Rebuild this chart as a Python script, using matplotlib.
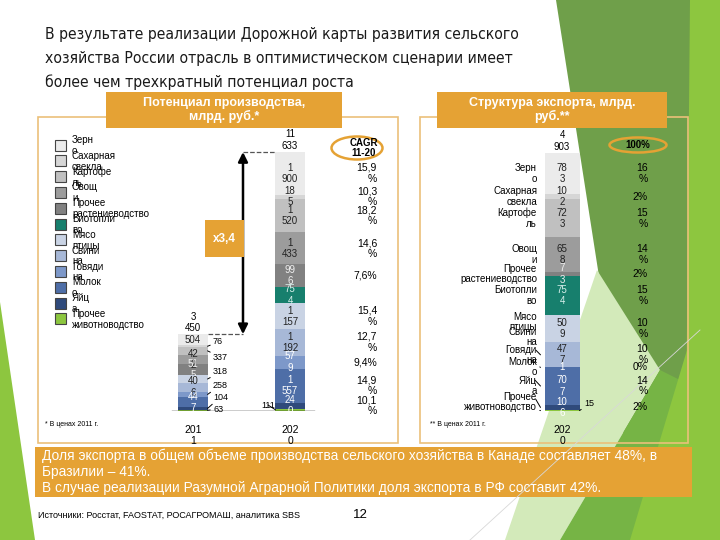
import matplotlib.pyplot as plt
from matplotlib.patches import Rectangle, Ellipse, Polygon
from matplotlib import font_manager, transforms

# ---- data ----
categories = ['Зерно', 'Сахарная свекла', 'Картофель', 'Овощи', 'Прочее растениеводство',
              'Биотопливо', 'Мясо птицы', 'Свинина', 'Говядина', 'Молоко', 'Яйца',
              'Прочее животноводство']
legend_labels = ['Зерн\nо', 'Сахарная\nсвекла', 'Картофе\nль', 'Овощ\nи', 'Прочее\nрастениеводство',
                 'Биотопли\nво', 'Мясо\nптицы', 'Свини\nна', 'Говяди\nна', 'Молок\nо', 'Яйц\nа',
                 'Прочее\nживотноводство']
years = ['2011', '2020']
prod_2011 = [504, 76, 337, 422, 515, 0, 318, 406, 258, 447, 104, 63]
prod_2020 = [1900, 185, 1520, 1433, 996, 754, 1157, 1192, 579, 1557, 240, 111]
total_2011 = 3450
total_2020 = 11633
cagr = [15.9, 10.3, 18.2, 14.6, 7.6, None, 15.4, 12.7, 9.4, 14.9, 10.1, None]
export_2020 = [783, 102, 723, 658, 73, 754, 509, 477, 1, 707, 106, 15]
total_export = 4903
export_share = [16, 2, 15, 14, 2, 15, 10, 10, 0, 14, 2, None]

title_lines = ['В результате реализации Дорожной карты развития сельского',
               'хозяйства России отрасль в оптимистическом сценарии имеет',
               'более чем трехкратный потенциал роста']

colors = ['#EBEBEB', '#D6D6D6', '#C0C0C0', '#9C9C9C', '#818181', '#177F6D',
          '#C9D3E4', '#A7B8D7', '#7D98C9', '#4E6EA7', '#2F4A7B', '#8CC63F']
txt_colors = ['#222222', '#222222', '#222222', '#222222', '#F0F0F0', '#D8F0EC',
              '#222222', '#222222', 'white', 'white', 'white', '#222222']

ORANGE = '#E5A234'
W, H = 720, 540

# narrow face for the title, only from families known to carry Cyrillic
title_prop = None
for pattern in ('LiberationSansNarrow-Regular', 'DejaVuSansCondensed.ttf'):
    for f in font_manager.fontManager.ttflist:
        if pattern in f.fname:
            title_prop = font_manager.FontProperties(fname=f.fname)
            break
    if title_prop is not None:
        break
if title_prop is None:
    title_prop = font_manager.FontProperties(family=['Roboto', 'DejaVu Sans'])

plt.rcParams['font.family'] = ['Liberation Sans', 'DejaVu Sans']

fig = plt.figure(figsize=(7.2, 5.4), dpi=100)


def px_axes(x0, y0, x1, y1, z):
    return fig.add_axes([x0 / W, 1 - y1 / H, (x1 - x0) / W, (y1 - y0) / H], zorder=z)


# background / decoration layer in pixel coords
bg = px_axes(0, 0, W, H, 0)
bg.set_xlim(0, W)
bg.set_ylim(H, 0)
bg.axis('off')

bg.add_patch(Polygon([(556, 0), (700, 0), (705, 540), (640, 540)], closed=True, fc='#6F9F4A', ec='none'))
bg.add_patch(Polygon([(597, 270), (505, 540), (560, 540), (660, 370)], closed=True, fc='#D3EABA', ec='none'))
bg.add_patch(Polygon([(660, 370), (560, 540), (720, 540), (720, 400)], closed=True, fc='#76B445', ec='none'))
bg.add_patch(Polygon([(720, 240), (630, 540), (720, 540)], closed=True, fc='#8DC63F', ec='none'))
bg.add_patch(Polygon([(690, 0), (720, 0), (720, 540), (685, 540)], closed=True, fc='#8DC63F', ec='none'))
bg.add_patch(Polygon([(0, 302), (35, 540), (0, 540)], closed=True, fc='#8DC63F', ec='none'))
bg.plot([470, 700], [540, 330], color='#D8D8D8', lw=0.6)

# title, one text per line; size chosen so the first line is close to its width on the slide
tl_texts = [bg.text(45, yc, s, va='center', ha='left', color='#1A1A1A', fontproperties=title_prop)
            for s, yc in zip(title_lines, [35, 59, 82])]
for t in tl_texts:
    t.set_fontsize(14)
fig.canvas.draw()
r = fig.canvas.get_renderer()
wpx = tl_texts[0].get_window_extent(r).width
size = min(14, 14 * 478 / wpx)
for t in tl_texts:
    t.set_fontsize(size)

# panels
bg.add_patch(Rectangle((38, 117), 360, 326, fc='white', ec='#EBC07A', lw=1.2))
bg.add_patch(Rectangle((420, 117), 268, 326, fc='none', ec='#EBC07A', lw=1.2))
bg.add_patch(Rectangle((106, 92), 236, 36, fc=ORANGE, ec='none'))
bg.text(224, 110, 'Потенциал производства,\nмлрд. руб.*', ha='center', va='center',
        color='white', fontsize=9, fontweight='bold', linespacing=1.15)
bg.add_patch(Rectangle((437, 92), 230, 36, fc=ORANGE, ec='none'))
bg.text(552, 110, 'Структура экспорта, млрд.\nруб.**', ha='center', va='center',
        color='white', fontsize=9, fontweight='bold', linespacing=1.15)

# legend
for i, (lab, c) in enumerate(zip(legend_labels, colors)):
    yc = 145 + 15.8 * i
    bg.add_patch(Rectangle((55, yc - 5.5), 11, 11, fc=c, ec='#444444', lw=0.8))
    bg.text(72, yc + 0.5, lab, ha='left', va='center', fontsize=7, linespacing=1.1)

# CAGR header
bg.add_patch(Ellipse((357, 148), 51, 23, fill=False, ec=ORANGE, lw=1.8))
bg.text(364, 148, 'CAGR\n11-20', ha='center', va='center', fontsize=7, fontweight='bold', linespacing=1.1)
bg.add_patch(Ellipse((638, 145), 57, 15, fill=False, ec=ORANGE, lw=1.8))
bg.text(638, 145, '100%', ha='center', va='center', fontsize=7, fontweight='bold')

bg.text(45, 424, '* В ценах 2011 г.', fontsize=5, va='center')
bg.text(430, 424, '** В ценах 2011 г.', fontsize=5, va='center')

# bottom box
bg.add_patch(Rectangle((35, 447), 657, 50, fc=ORANGE, ec='none'))
bg.text(42, 472, 'Доля экспорта в общем объеме производства сельского хозяйства в Канаде составляет 48%, в\n'
        'Бразилии – 41%.\n'
        'В случае реализации Разумной Аграрной Политики доля экспорта в РФ составит 42%.',
        ha='left', va='center', color='white', fontsize=9.9, linespacing=1.18)
bg.text(38, 515, 'Источники: Росстат, FAOSTAT, РОСАГРОМАШ, аналитика SBS', fontsize=6.5, va='center')
bg.text(360, 515, '12', fontsize=9.5, ha='center', va='center')


def wrap(v):
    if v >= 1000:
        return f'{v // 1000}\n{v % 1000:03d}'
    if v >= 10:
        return f'{v // 10}\n{v % 10}'
    return str(v)


# ---- left chart: production ----
axl = px_axes(160, 121.6, 320, 411, 2)
axl.set_xlim((160 - 193) / 97, (320 - 193) / 97)
axl.set_ylim(0, 13000)
axl.axis('off')
axl.patch.set_alpha(0)
bw = 0.3

series = [prod_2011, prod_2020]
totals = [total_2011, total_2020]
mids = [[], []]
for j, vals in enumerate(series):
    bottom = 0
    m = [0] * len(vals)
    for i in range(len(vals) - 1, -1, -1):
        axl.bar(j, vals[i], bw, bottom=bottom, color=colors[i], lw=0)
        m[i] = bottom + vals[i] / 2
        bottom += vals[i]
    mids[j] = m
    axl.annotate(wrap(totals[j]), xy=(j, totals[j]), xytext=(0, 1), textcoords='offset points',
                 ha='center', va='bottom', fontsize=7, linespacing=1.15)
    axl.annotate(years[j][:3] + '\n' + years[j][3:], xy=(j, 0), xytext=(0, -10),
                 textcoords='offset points', ha='center', va='top', fontsize=7.5, linespacing=1.1)

axl.plot([-0.22, 1.25], [0, 0], color='black', lw=1)

# 2011 labels
inside_2011 = [0, 3, 4, 7, 9]
outside_2011 = {1: 342, 2: 357, 6: 372, 8: 385, 10: 397, 11: 409}
for i in inside_2011:
    lab = str(prod_2011[i]) if i == 0 else wrap(prod_2011[i])
    axl.text(0, mids[0][i], lab, ha='center', va='center', fontsize=7, color=txt_colors[i], linespacing=1.15)
for i, ypx in outside_2011.items():
    axl.annotate(str(prod_2011[i]), xy=(bw / 2, mids[0][i]), xytext=(213, ypx), textcoords=bg.transData,
                 ha='left', va='center', fontsize=6.5,
                 arrowprops=dict(arrowstyle='-', lw=0.7, color='black', shrinkA=0, shrinkB=0))

# 2020 labels
for i, v in enumerate(prod_2020):
    if i == len(prod_2020) - 1:
        axl.annotate(str(v), xy=(1 - bw / 2, mids[1][i]), xytext=(268, 405), textcoords=bg.transData,
                     ha='center', va='center', fontsize=6.5,
                     arrowprops=dict(arrowstyle='-', lw=0.7, color='black', shrinkA=0, shrinkB=0))
    else:
        axl.text(1, mids[1][i], wrap(v), ha='center', va='center', fontsize=7,
                 color=txt_colors[i], linespacing=1.15)

# arrow and dashed guides
ax_x = (243 - 193) / 97
axl.plot([bw / 2, ax_x], [total_2011, total_2011], ls='--', color='#555555', lw=0.9)
axl.plot([ax_x, 1 - bw / 2], [total_2020, total_2020], ls='--', color='#555555', lw=0.9)
axl.annotate('', xy=(ax_x, total_2020), xytext=(ax_x, total_2011),
             arrowprops=dict(arrowstyle='<|-|>', color='black', lw=1.8, mutation_scale=14,
                             shrinkA=0, shrinkB=0))

# CAGR column
tl = transforms.blended_transform_factory(bg.transData, axl.transData)
for i, c in enumerate(cagr):
    if c is None:
        continue
    s = f'{c:.1f}'.replace('.', ',')
    s = s + '\n%' if len(s) >= 4 else s + '%'
    axl.text(377, mids[1][i], s, transform=tl, ha='right', va='center', fontsize=7.5,
             linespacing=1.1, multialignment='right')

# ratio box on top
fg = px_axes(0, 0, W, H, 3)
fg.set_xlim(0, W)
fg.set_ylim(H, 0)
fg.axis('off')
fg.patch.set_alpha(0)
fg.add_patch(Rectangle((205, 220), 39, 37, fc=ORANGE, ec='none'))
fg.text(224.5, 238.5, 'x' + f'{total_2020 / total_2011:.1f}'.replace('.', ','), ha='center', va='center',
        color='white', fontsize=8.5, fontweight='bold')

# ---- right chart: export structure ----
axr = px_axes(430, 121.6, 690, 411, 2)
axr.set_xlim(-1.32, 1.28)
axr.set_ylim(0, 5500)
axr.axis('off')
axr.patch.set_alpha(0)
rw = 0.35
bottom = 0
emid = [0] * len(export_2020)
for i in range(len(export_2020) - 1, -1, -1):
    axr.bar(0, export_2020[i], rw, bottom=bottom, color=colors[i], lw=0)
    emid[i] = bottom + export_2020[i] / 2
    bottom += export_2020[i]

axr.annotate(wrap(total_export), xy=(0, total_export), xytext=(0, 1), textcoords='offset points',
             ha='center', va='bottom', fontsize=7, linespacing=1.15)
axr.annotate(years[1][:3] + '\n' + years[1][3:], xy=(0, 0), xytext=(0, -10),
             textcoords='offset points', ha='center', va='top', fontsize=7.5, linespacing=1.1)

tr = transforms.blended_transform_factory(bg.transData, axr.transData)
lower_label_px = {6: 322, 7: 337, 8: 355, 9: 367, 10: 386, 11: 402}
for i, v in enumerate(export_2020):
    if i == len(export_2020) - 1:
        axr.annotate(str(v), xy=(rw / 2, emid[i]), xytext=(589, 404), textcoords=bg.transData,
                     ha='center', va='center', fontsize=6.5,
                     arrowprops=dict(arrowstyle='-', lw=0.7, color='black', shrinkA=0, shrinkB=0))
    else:
        axr.text(0, emid[i], wrap(v), ha='center', va='center', fontsize=7,
                 color=txt_colors[i], linespacing=1.15)
    if i in lower_label_px:
        kw = {}
        if i >= 7:
            kw['arrowprops'] = dict(arrowstyle='-', lw=0.7, color='black', shrinkA=0, shrinkB=0)
        axr.annotate(legend_labels[i], xy=(-rw / 2 - 0.04, emid[i]), xytext=(537, lower_label_px[i]),
                     textcoords=bg.transData, ha='right', va='center', fontsize=7,
                     linespacing=1.1, multialignment='right', **kw)
    else:
        axr.text(537, emid[i], legend_labels[i], transform=tr, ha='right', va='center',
                 fontsize=7, linespacing=1.1, multialignment='right')
    p = export_share[i]
    if p is not None:
        s = f'{p}\n%' if p >= 10 else f'{p}%'
        axr.text(648, emid[i], s, transform=tr, ha='right', va='center', fontsize=7.5,
                 linespacing=1.1, multialignment='right')

fig.savefig('out.png', dpi=100)
